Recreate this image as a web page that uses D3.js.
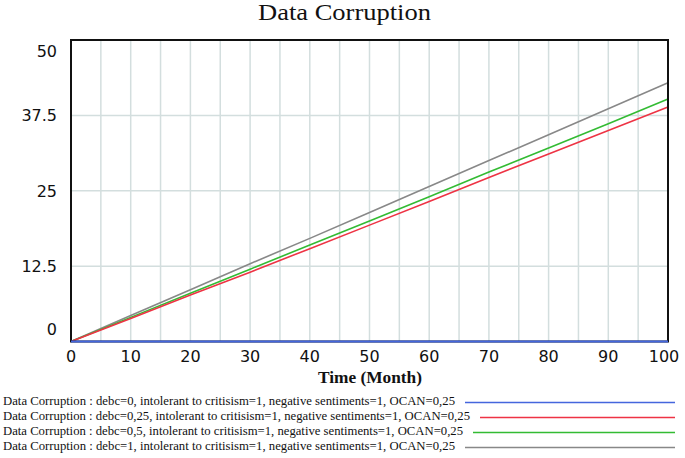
<!DOCTYPE html>
<html><head><meta charset="utf-8">
<script src="https://cdn.jsdelivr.net/npm/d3@7"></script>
<style>body{margin:0;background:#fff}svg{display:block}</style>
</head><body>
<svg id="c" width="685" height="458"></svg>
<script>
const months = [0,10,20,30,40,50,60,70,80,90,100];
const blue  = [0,0,0,0,0,0,0,0,0,0,0];
const red   = [0,3.8,7.7,11.5,15.4,19.3,23.2,27.2,31.1,35.0,38.9];
const green = [0,4.0,8.0,12.0,16.0,20.0,24.0,28.1,32.1,36.1,40.2];
const gray  = [0,4.3,8.6,12.9,17.1,21.4,25.7,30.0,34.3,38.6,42.9];
const yTicks = [0,12.5,25,37.5,50];
const xTicks = [0,10,20,30,40,50,60,70,80,90,100];
const legendLabels = [
 "Data Corruption : debc=0, intolerant to critisism=1, negative sentiments=1, OCAN=0,25",
 "Data Corruption : debc=0,25, intolerant to critisism=1, negative sentiments=1, OCAN=0,25",
 "Data Corruption : debc=0,5, intolerant to critisism=1, negative sentiments=1, OCAN=0,25",
 "Data Corruption : debc=1, intolerant to critisism=1, negative sentiments=1, OCAN=0,25"];
const colors = ["#4466dd","#ee3344","#33bb33","#888888"];
const seriesVals = [blue, red, green, gray];

const svg = d3.select("#c");
const L=71,R=668,T=40,B=341.5;
const x = d3.scaleLinear().domain([0,100]).range([L,R]);
const y = d3.scaleLinear().domain([0,50]).range([B,T]);

// grid
const g = svg.append("g");
g.selectAll("line.vx").data(d3.range(5,100,5)).join("line")
 .attr("x1",d=>x(d)).attr("x2",d=>x(d)).attr("y1",T).attr("y2",B)
 .attr("stroke","#d3dede").attr("stroke-width",1.5);
g.selectAll("line.hy").data([12.5,25,37.5]).join("line")
 .attr("x1",L).attr("x2",R).attr("y1",d=>y(d)).attr("y2",d=>y(d))
 .attr("stroke","#d3dede").attr("stroke-width",1.5);

// lines
const line = d3.line().x((d,i)=>x(months[i])).y(d=>y(d));
[3,2,1].forEach(k=>{
  svg.append("path").attr("d",line(seriesVals[k])).attr("fill","none")
   .attr("stroke",colors[k]).attr("stroke-width",1.6);
});

// frame
svg.append("rect").attr("x",L).attr("y",T).attr("width",R-L).attr("height",B-T)
 .attr("fill","none").attr("stroke","#111").attr("stroke-width",2);
svg.append("path").attr("d",line(blue)).attr("fill","none")
 .attr("stroke",colors[0]).attr("stroke-width",2);

// y labels
svg.selectAll("text.yl").data(yTicks).join("text")
 .attr("x",57).attr("y",d=> d===0 ? y(d)-7 : d===50 ? y(d)+17 : y(d)+6)
 .attr("text-anchor","end").attr("font-family","DejaVu Sans").attr("font-size",16)
 .attr("fill","#111").text(d=>d);
// x labels
svg.selectAll("text.xl").data(xTicks).join("text")
 .attr("x",d=>d===100? x(d)-4 : x(d)).attr("y",362)
 .attr("text-anchor","middle").attr("font-family","DejaVu Sans").attr("font-size",16)
 .attr("fill","#111").text(d=>d);

svg.append("text").attr("x",258).attr("y",20)
 .attr("font-family","Liberation Serif").attr("font-size",23).attr("fill","#111")
 .attr("textLength",173).attr("lengthAdjust","spacingAndGlyphs").text("Data Corruption");
svg.append("text").attr("x",318).attr("y",383)
 .attr("font-family","Liberation Serif").attr("font-weight","bold").attr("font-size",16).attr("fill","#111")
 .attr("textLength",104).attr("lengthAdjust","spacingAndGlyphs").text("Time (Month)");

// legend
const legendTextEnd = [455,470,463,455];
const lg = svg.append("g");
legendLabels.forEach((t,i)=>{
  const yy = 405 + i*15;
  lg.append("text").attr("x",3).attr("y",yy).attr("font-family","Liberation Serif")
    .attr("font-size",12).attr("fill","#111")
    .attr("textLength",legendTextEnd[i]-3).attr("lengthAdjust","spacingAndGlyphs").text(t);
  lg.append("line").attr("x1",legendTextEnd[i]+10).attr("x2",675).attr("y1",yy-2.5).attr("y2",yy-2.5)
    .attr("stroke",colors[i]).attr("stroke-width",1.6);
});
</script>
</body></html>
